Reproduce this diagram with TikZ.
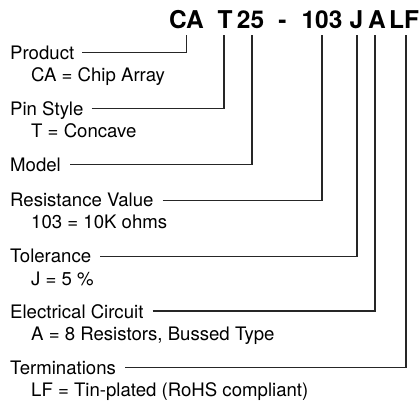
\documentclass[tikz,border=0pt]{standalone}
\usepackage{fontspec}
\setmainfont{TeX Gyre Heros}
\begin{document}
\begin{tikzpicture}[x=1pt,y=-1pt,
  code/.style={inner sep=0pt,anchor=base,font=\fontsize{24.5}{28}\selectfont\bfseries},
  lab/.style={inner sep=0pt,anchor=base west,font=\fontsize{18.6}{22}\selectfont},
  conn/.style={line width=1.1pt,draw=black!85}]
\useasboundingbox (0,0) rectangle (420,413);
% header
\node[code] (ca) at (186.5,28) {CA};
\node[code] (t) at (225,28) {T};
\node[code] (n25) at (250.5,28) {25};
\node[code] (dash) at (282.5,28) {-};
\node[code] (n103) at (322,28) {103};
\node[code] (j) at (356.5,28) {J};
\node[code] (a) at (377,28) {A};
\node[code] (lf) at (404,28) {LF};
% labels
\node[lab] (product) at (10,59) {Product};
\node[lab] (productd) at (31,81) {CA = Chip Array};
\node[lab] (pin) at (10,115) {Pin Style};
\node[lab] (pind) at (31,137) {T = Concave};
\node[lab] (model) at (10,171) {Model};
\node[lab] (res) at (10,206) {Resistance Value};
\node[lab] (resd) at (31,228) {103 = 10K ohms};
\node[lab] (tol) at (10,262) {Tolerance};
\node[lab] (told) at (31,285) {J = 5 \%};
\node[lab] (elec) at (10,318) {Electrical Circuit};
\node[lab] (elecd) at (31,340) {A = 8 Resistors, Bussed Type};
\node[lab] (term) at (10,374) {Terminations};
\node[lab] (termd) at (31,396) {LF = Tin-plated (RoHS compliant)};
% connectors
\draw[conn] ([shift={(8pt,6.5pt)}]product.base east) -| ([yshift=-7pt]ca.south);
\draw[conn] ([shift={(8pt,6.5pt)}]pin.base east) -| ([shift={(-1pt,-7pt)}]t.south);
\draw[conn] ([shift={(9pt,6.5pt)}]model.base east) -| ([shift={(1.5pt,-7pt)}]n25.south);
\draw[conn] ([shift={(9pt,5.5pt)}]res.base east) -| ([yshift=-7pt]n103.south);
\draw[conn] ([shift={(9pt,5.5pt)}]tol.base east) -| ([shift={(0.5pt,-7pt)}]j.south);
\draw[conn] ([shift={(9pt,7pt)}]elec.base east) -| ([shift={(-2pt,-7pt)}]a.south);
\draw[conn] ([shift={(9pt,6.5pt)}]term.base east) -| ([shift={(2pt,-7pt)}]lf.south);
\end{tikzpicture}
\end{document}
